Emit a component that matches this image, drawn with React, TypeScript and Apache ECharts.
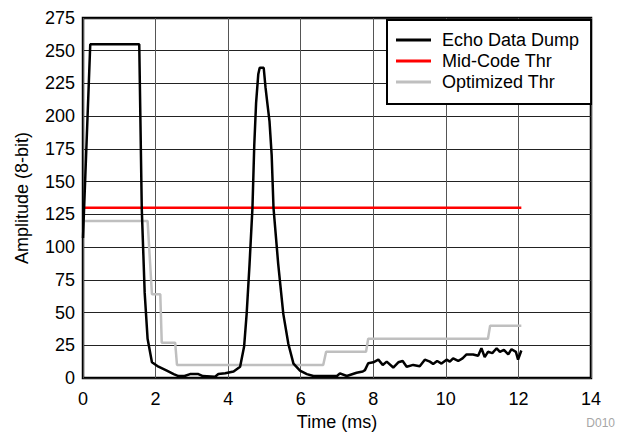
import React, { useEffect, useRef } from "react";
import * as echarts from "echarts";

const echoTime = [
  0.0, 0.2, 1.55, 1.62, 1.7, 1.78, 1.9, 2.08, 2.31, 2.5, 2.63, 2.8, 2.95, 3.18, 3.3, 3.64, 3.73, 3.92, 4.15, 4.33,
  4.44, 4.51, 4.59, 4.67, 4.72, 4.77, 4.83, 4.87, 4.98, 5.03, 5.08, 5.14, 5.2, 5.25, 5.38, 5.52, 5.66, 5.8, 5.98,
  6.17, 6.35, 7.0, 7.08, 7.27, 7.54, 7.71, 7.77, 7.86, 8.0, 8.14, 8.26, 8.37, 8.55, 8.69, 8.81, 8.92, 9.1, 9.28,
  9.42, 9.56, 9.65, 9.76, 9.88, 10.02, 10.11, 10.2, 10.34, 10.46, 10.57, 10.75, 10.89, 10.98, 11.07, 11.16, 11.28,
  11.4, 11.49, 11.6, 11.72, 11.81, 11.93, 11.99, 12.08,
];
const echoAmp = [
  107, 255, 255, 129, 65, 30, 12, 8.6, 5.6, 3, 1.5, 1.5, 3, 3, 1.5, 1, 3, 3.6, 5, 8.6,
  24, 49, 87, 130, 178, 210, 232, 237, 237, 222, 210, 196, 170, 130, 87, 49, 26, 11, 5.6,
  3, 1.5, 1.5, 3.5, 1.5, 4, 5, 6, 11.3, 12, 14, 10, 12.5, 8, 12, 13, 8.6, 10, 9,
  14, 12.5, 10.7, 13, 11, 14, 12.5, 15, 13, 15, 18, 18, 17, 22.7, 16, 20, 19,
  22.7, 20, 21.4, 18, 22, 20, 14, 21,
];

const midTime = [0, 12.08];
const midAmp = [130, 130];

const optTime = [0, 1.78, 1.9, 2.13, 2.17, 2.54, 2.59, 6.62, 6.7, 7.8, 7.86, 11.16, 11.22, 12.08];
const optAmp = [120, 120, 64, 64, 27, 27, 10, 10, 20, 20, 30, 30, 40, 40];

const seriesNames = ["Echo Data Dump", "Mid-Code Thr", "Optimized Thr"];
const seriesColors = ["#000000", "#ff0000", "#bfbfbf"];

const xTitle = "Time (ms)";
const yTitle = "Amplitude (8-bit)";
const tagText = "D010";

const pairs = (xs: number[], ys: number[]) => xs.map((x, i) => [x, ys[i]]);

const FONT = "'Liberation Sans', Arial, Helvetica, sans-serif";

export default function App() {
  const ref = useRef<HTMLDivElement>(null);
  useEffect(() => {
    if (!ref.current) return;
    const chart = echarts.init(ref.current, undefined, { renderer: "svg" });
    chart.setOption({
      animation: false,
      textStyle: { fontFamily: FONT },
      grid: {
        left: 83,
        top: 18,
        right: 28,
        bottom: 58,
        show: true,
        borderColor: "#000",
        borderWidth: 2.5,
        backgroundColor: "transparent",
      },
      legend: {
        orient: "vertical",
        left: 387,
        top: 20,
        data: seriesNames,
        icon: "rect",
        itemWidth: 35,
        itemHeight: 3,
        itemGap: 3,
        padding: [11, 12, 13, 9],
        backgroundColor: "#fff",
        borderColor: "#000",
        borderWidth: 2,
        borderRadius: 0,
        textStyle: {
          fontFamily: FONT,
          fontSize: 18,
          lineHeight: 18,
          color: "#000",
          padding: [0, 0, 0, 6],
        },
      },
      xAxis: {
        type: "value",
        min: 0,
        max: 14,
        interval: 2,
        name: xTitle,
        nameLocation: "middle",
        nameGap: 34,
        nameTextStyle: { fontFamily: FONT, fontSize: 18, color: "#000" },
        axisLine: { show: false },
        axisTick: { show: false },
        axisLabel: { fontFamily: FONT, fontSize: 18, color: "#000", margin: 12 },
        splitLine: { show: true, lineStyle: { color: "#555", width: 1 } },
      },
      yAxis: {
        type: "value",
        min: 0,
        max: 275,
        interval: 25,
        name: yTitle,
        nameLocation: "middle",
        nameGap: 52,
        nameTextStyle: { fontFamily: FONT, fontSize: 18, color: "#000" },
        axisLine: { show: false },
        axisTick: { show: false },
        axisLabel: { fontFamily: FONT, fontSize: 18, color: "#000", margin: 8 },
        splitLine: { show: true, lineStyle: { color: "#222", width: 1 } },
      },
      graphic: [
        {
          type: "text",
          right: 4,
          top: 417,
          style: { text: tagText, fill: "#a6a6a6", fontSize: 12, fontFamily: FONT },
        },
      ],
      series: [
        {
          name: seriesNames[2],
          type: "line",
          data: pairs(optTime, optAmp),
          symbol: "none",
          color: seriesColors[2],
          lineStyle: { color: seriesColors[2], width: 2.5 },
          z: 2,
        },
        {
          name: seriesNames[1],
          type: "line",
          data: pairs(midTime, midAmp),
          symbol: "none",
          color: seriesColors[1],
          lineStyle: { color: seriesColors[1], width: 2.5 },
          z: 3,
        },
        {
          name: seriesNames[0],
          type: "line",
          data: pairs(echoTime, echoAmp),
          symbol: "none",
          color: seriesColors[0],
          lineStyle: { color: seriesColors[0], width: 2.5 },
          z: 4,
        },
      ],
    });
    return () => chart.dispose();
  }, []);
  return (
    <div
      ref={ref}
      style={{ position: "fixed", left: 0, top: 0, width: 619, height: 436, background: "#fff" }}
    />
  );
}
